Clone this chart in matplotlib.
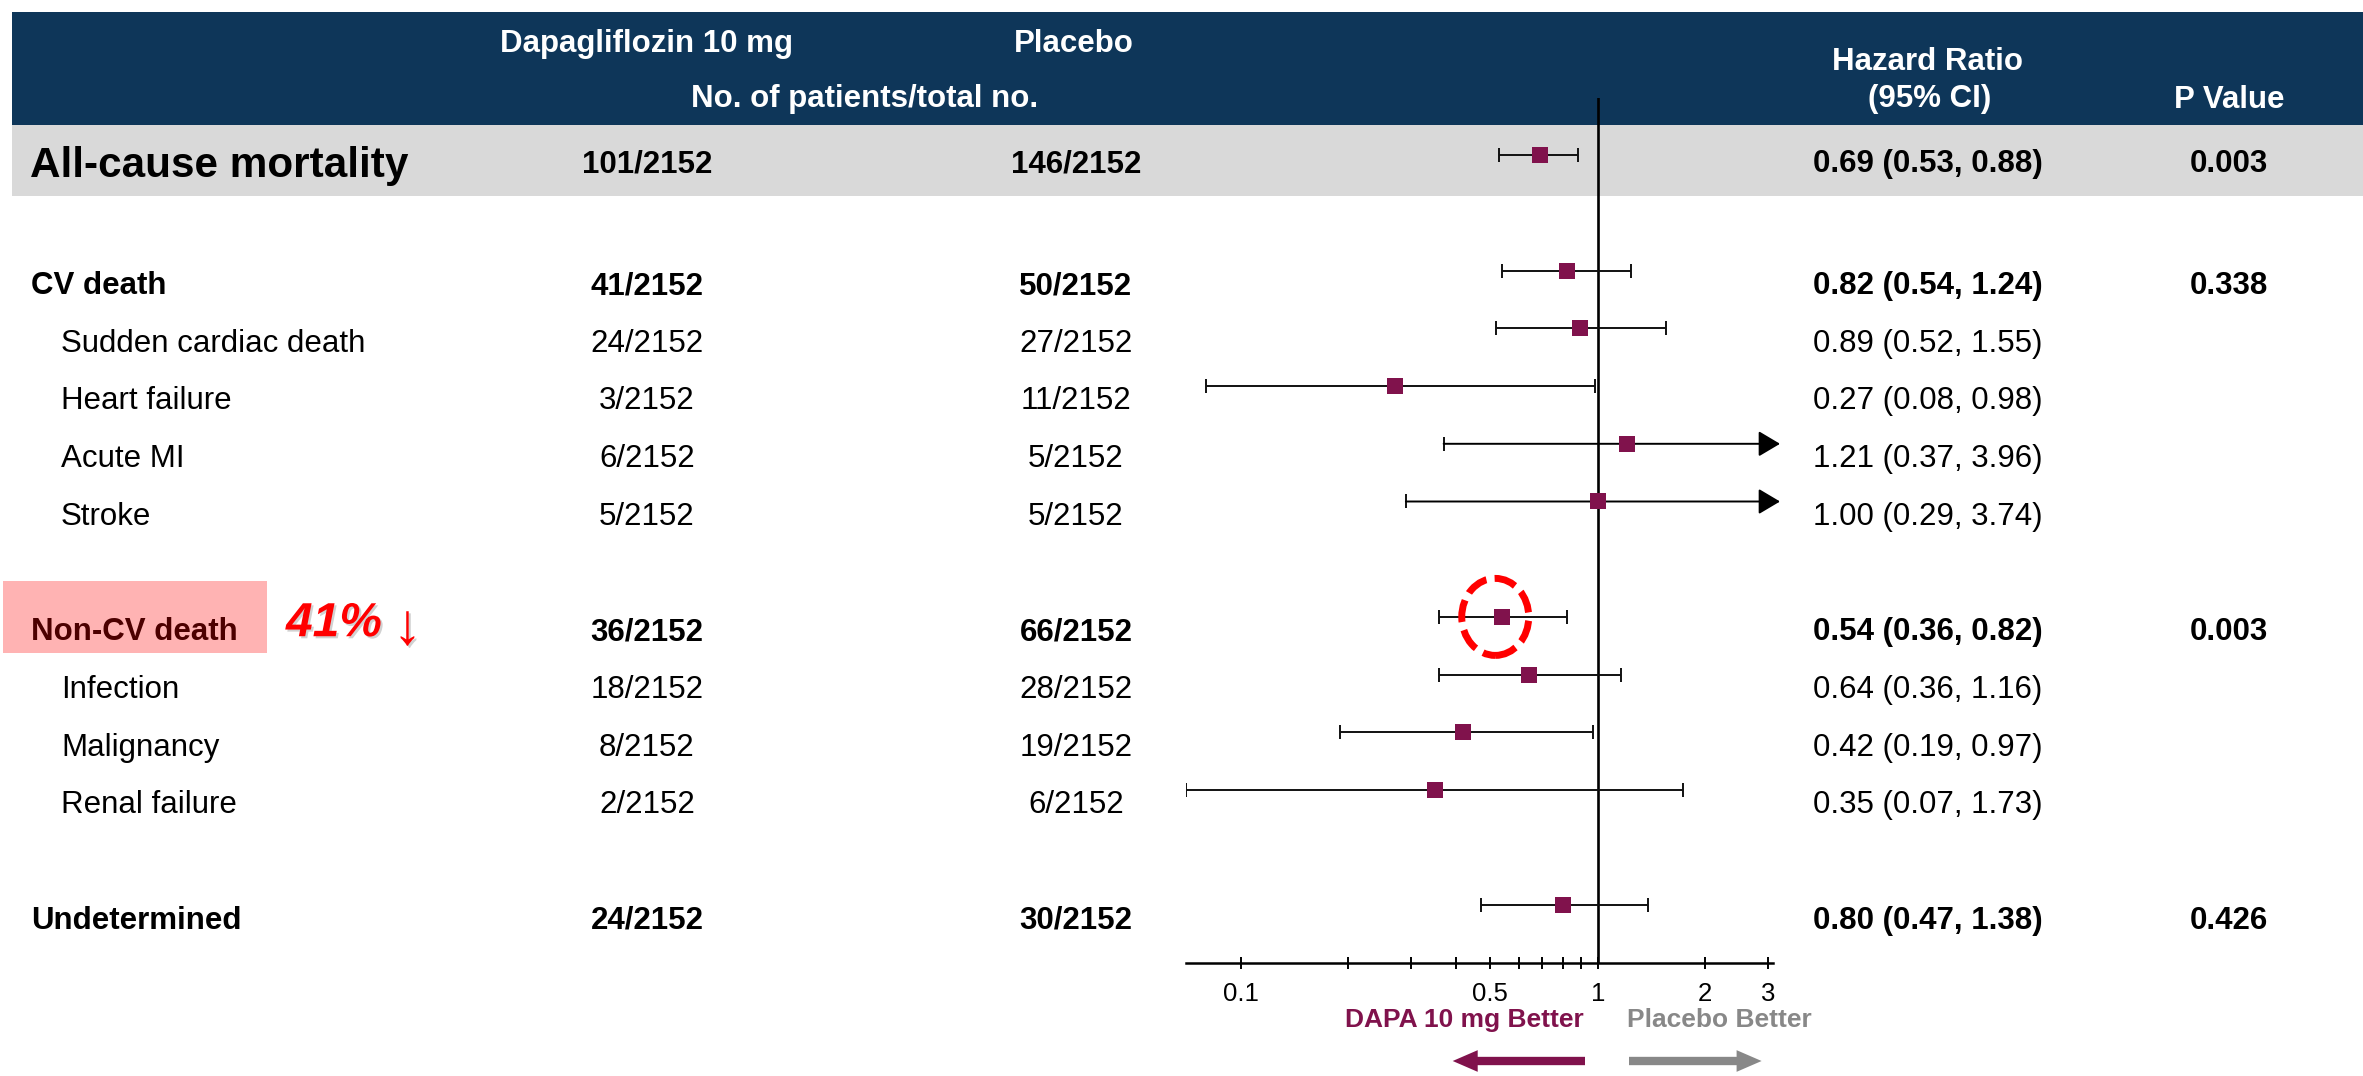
import matplotlib
matplotlib.use("Agg")
import matplotlib.pyplot as plt
from matplotlib import transforms
from matplotlib.patches import Rectangle, Ellipse
from matplotlib.ticker import FixedLocator, FixedFormatter, NullLocator
import matplotlib.patheffects as pe

plt.rcParams['font.family'] = ['Liberation Sans', 'DejaVu Sans']

# ---- data ---------------------------------------------------------------
categories = ["All-cause mortality", "CV death", "Sudden cardiac death",
              "Heart failure", "Acute MI", "Stroke", "Non-CV death",
              "Infection", "Malignancy", "Renal failure", "Undetermined"]
is_heading = [True, True, False, False, False, False, True,
              False, False, False, True]
dapa_events = ["101/2152", "41/2152", "24/2152", "3/2152", "6/2152", "5/2152",
               "36/2152", "18/2152", "8/2152", "2/2152", "24/2152"]
placebo_events = ["146/2152", "50/2152", "27/2152", "11/2152", "5/2152",
                  "5/2152", "66/2152", "28/2152", "19/2152", "6/2152",
                  "30/2152"]
hr = [0.69, 0.82, 0.89, 0.27, 1.21, 1.00, 0.54, 0.64, 0.42, 0.35, 0.80]
ci_low = [0.53, 0.54, 0.52, 0.08, 0.37, 0.29, 0.36, 0.36, 0.19, 0.07, 0.47]
ci_high = [0.88, 1.24, 1.55, 0.98, 3.96, 3.74, 0.82, 1.16, 0.97, 1.73, 1.38]
p_values = ["0.003", "0.338", "", "", "", "", "0.003", "", "", "", "0.426"]

tick_values = [0.1, 0.2, 0.3, 0.4, 0.5, 0.6, 0.7, 0.8, 0.9, 1, 2, 3]
tick_labels = ["0.1", "", "", "", "0.5", "", "", "", "", "1", "2", "3"]

header_cols = ["Dapagliflozin 10 mg", "Placebo"]
header_sub = "No. of patients/total no."
header_hr = ["Hazard Ratio", "(95% CI)"]
header_p = "P Value"
favours = ["DAPA 10 mg Better", "Placebo Better"]
callout = "41%"

# ---- layout -------------------------------------------------------------
W, H = 2363, 1076
NAVY = '#0E3659'
PLUM = '#80124C'
BAND = '#D9D9D9'
PINK = '#FFB3B3'
X_MIN, X_MAX = 0.07, 3.1


def fx(px):
    return px / W


def fy(py):
    return 1 - py / H


# row positions: one blank line before each heading (except the first)
rows = []
pos = -2
for i, head in enumerate(is_heading):
    if head and i > 0:
        pos += 1
    rows.append(pos)
    pos += 1

fig = plt.figure(figsize=(W / 100, H / 100), dpi=100)
fig.patch.set_facecolor('white')

# background bands
fig.add_artist(Rectangle((fx(12), fy(125)), 1 - fx(12), fy(12) - fy(125),
                         transform=fig.transFigure, facecolor=NAVY,
                         edgecolor='none', zorder=-5))
fig.add_artist(Rectangle((fx(12), fy(196)), 1 - fx(12), fy(125) - fy(196),
                         transform=fig.transFigure, facecolor=BAND,
                         edgecolor='none', zorder=-5))
fig.add_artist(Rectangle((fx(3), fy(653)), fx(267) - fx(3), fy(581) - fy(653),
                         transform=fig.transFigure, facecolor=PINK,
                         edgecolor='none', zorder=-5))

# forest plot axes
ax = fig.add_axes([fx(1185.5), fy(963.1), fx(1773.2) - fx(1185.5),
                   fy(97.6) - fy(963.1)])
ax.set_xscale('log')
ax.patch.set_visible(False)
for s in ['top', 'right', 'left']:
    ax.spines[s].set_visible(False)
ax.spines['bottom'].set_linewidth(1.8)
ax.yaxis.set_visible(False)
ax.xaxis.set_major_locator(FixedLocator(tick_values))
ax.xaxis.set_major_formatter(FixedFormatter(tick_labels))
ax.xaxis.set_minor_locator(NullLocator())
ax.tick_params(axis='x', direction='inout', length=8.6, width=1.4,
               labelsize=18.5, pad=9)

ax.axvline(1, color='black', lw=1.9, zorder=1)

for i in range(len(categories)):
    y = rows[i]
    if ci_high[i] <= X_MAX:
        ax.errorbar(hr[i], y, xerr=[[hr[i] - ci_low[i]], [ci_high[i] - hr[i]]],
                    fmt='none', ecolor='#111111', elinewidth=1.4,
                    capsize=4.7, capthick=1.4, zorder=2)
    else:
        # upper limit runs off the scale: lower cap plus an arrowhead
        ax.plot([ci_low[i]], [y], marker='|', ms=9.4, mew=1.4,
                color='#111111', zorder=2)
        ax.annotate('', xy=(1.0116, y), xycoords=('axes fraction', 'data'),
                    xytext=(ci_low[i], y), textcoords='data',
                    arrowprops=dict(arrowstyle='-|>,head_length=13.3,head_width=7.9',
                                    mutation_scale=1, shrinkA=0, shrinkB=0,
                                    color='black', lw=1.4),
                    annotation_clip=False, zorder=2)

ax.plot(hr, rows, linestyle='none', marker='s', ms=11.5, mew=0,
        color=PLUM, zorder=3)

ax.set_xlim(X_MIN, X_MAX)
ax.set_ylim(12, -3)

# dashed highlight around the non-CV death estimate
k = categories.index("Non-CV death")
ell_tr = fig.dpi_scale_trans + transforms.ScaledTranslation(hr[k], rows[k], ax.transData)
fig.add_artist(Ellipse((-0.07, 0.0), 0.67, 0.77, transform=ell_tr, fill=False,
                       edgecolor='#FF0000', lw=5, linestyle=(0, (3.2, 1.2)),
                       zorder=4))

# ---- table text ---------------------------------------------------------
row_tr = transforms.blended_transform_factory(fig.transFigure, ax.transData)
COL_DAPA, COL_PBO, COL_HR, COL_P = fx(647), fx(1076), fx(1928), fx(2229)

for i, cat in enumerate(categories):
    w = 'bold' if is_heading[i] else 'normal'
    first = (i == 0)
    y_txt = rows[i] + (0.29 if first else 0.405)
    if first:
        fig.text(fx(30), rows[i] + 0.376, cat, transform=row_tr, fontsize=30.4,
                 fontweight='bold', ha='left', va='baseline')
    elif cat == "Non-CV death":
        fig.text(fx(31), y_txt, cat, transform=row_tr, fontsize=22.5,
                 fontweight='bold', color='#4C0000', ha='left', va='baseline')
    else:
        fig.text(fx(31) if is_heading[i] else fx(61), y_txt, cat,
                 transform=row_tr, fontsize=22.5, fontweight=w,
                 ha='left', va='baseline')
    hr_txt = f"{hr[i]:.2f} ({ci_low[i]:.2f}, {ci_high[i]:.2f})"
    for xc, s in [(COL_DAPA, dapa_events[i]), (COL_PBO, placebo_events[i]),
                  (COL_HR, hr_txt), (COL_P, p_values[i])]:
        if s:
            fig.text(xc, y_txt, s, transform=row_tr, fontsize=22.5,
                     fontweight=w, ha='center', va='baseline')

# reduction callout next to the non-CV death label
shadow = [pe.withSimplePatchShadow(offset=(1.5, -1.5), shadow_rgbFace='#999999',
                                   alpha=0.45)]
fig.text(fx(286), rows[k] + 0.335, callout, transform=row_tr, fontsize=34.5,
         fontweight='bold', fontstyle='italic', color='#FF0000',
         ha='left', va='baseline', path_effects=shadow)
fig.text(fx(407.5), rows[k] + 0.47, "\u2193", transform=row_tr, fontsize=42,
         color='#FF0000', ha='center', va='baseline', path_effects=shadow)

# ---- header -------------------------------------------------------------
hdr = dict(color='white', fontsize=22.5, fontweight='bold', ha='center',
           va='baseline')
fig.text(fx(647), fy(51.7), header_cols[0], **hdr)
fig.text(fx(1074), fy(51.7), header_cols[1], **hdr)
fig.text(fx(865), fy(106.7), header_sub, **hdr)
fig.text(fx(1928), fy(70), header_hr[0], **hdr)
fig.text(fx(1930), fy(106.7), header_hr[1], **hdr)
fig.text(fx(2229), fy(107.5), header_p, **hdr)

# ---- favours labels and arrows -----------------------------------------
fig.text(fx(1464.5), fy(1020), favours[0], color=PLUM, fontsize=19,
         fontweight='bold', ha='center', va='center')
fig.text(fx(1719.5), fy(1020), favours[1], color='#888888', fontsize=19,
         fontweight='bold', ha='center', va='center')

arrow_style = 'simple,head_length=18,head_width=15.6,tail_width=6'
for (x0, x1), col in [((1585, 1452.7), PLUM), ((1629, 1761.6), '#888888')]:
    ax.annotate('', xy=(fx(x1), fy(1061)), xycoords='figure fraction',
                xytext=(fx(x0), fy(1061)), textcoords='figure fraction',
                arrowprops=dict(arrowstyle=arrow_style, mutation_scale=1,
                                shrinkA=0, shrinkB=0, color=col, lw=0),
                annotation_clip=False)

fig.savefig('out.png', dpi=100, facecolor='white')
